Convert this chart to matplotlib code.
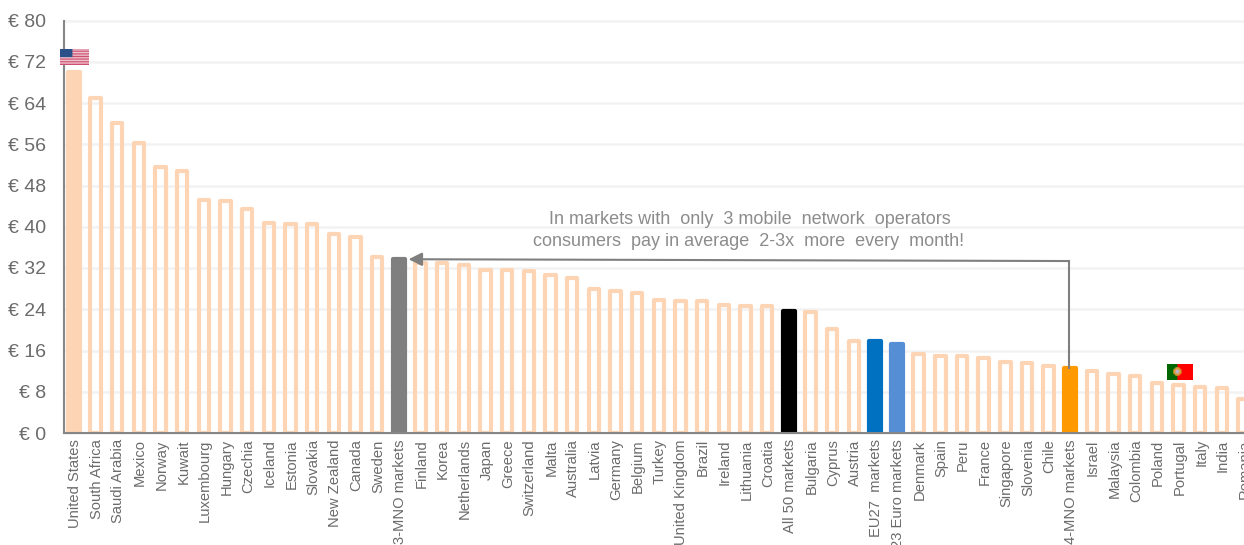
import numpy as np
import matplotlib
matplotlib.use('Agg')
import matplotlib.pyplot as plt
from matplotlib.transforms import ScaledTranslation

plt.rcParams['font.family'] = ['Liberation Sans', 'DejaVu Sans']

countries = ['United States', 'South Africa', 'Saudi Arabia', 'Mexico', 'Norway', 'Kuwait',
             'Luxembourg', 'Hungary', 'Czechia', 'Iceland', 'Estonia', 'Slovakia', 'New Zealand',
             'Canada', 'Sweden', '3-MNO markets', 'Finland', 'Korea', 'Netherlands', 'Japan',
             'Greece', 'Switzerland', 'Malta', 'Australia', 'Latvia', 'Germany', 'Belgium',
             'Turkey', 'United Kingdom', 'Brazil', 'Ireland', 'Lithuania', 'Croatia',
             'All 50 markets', 'Bulgaria', 'Cyprus', 'Austria', 'EU27  markets', '23 Euro markets',
             'Denmark', 'Spain', 'Peru', 'France', 'Singapore', 'Slovenia', 'Chile',
             '4-MNO markets', 'Israel', 'Malaysia', 'Colombia', 'Poland', 'Portugal', 'Italy',
             'India', 'Romania']
values = [70.1, 65.0, 60.1, 56.3, 51.6, 50.9, 45.1, 44.9, 43.4, 40.7, 40.5, 40.5, 38.5,
          38.0, 34.1, 33.8, 33.0, 33.0, 32.5, 31.7, 31.7, 31.5, 30.6, 30.1, 27.9, 27.5, 27.2,
          25.8, 25.6, 25.6, 24.9, 24.7, 24.6, 23.7, 23.5, 20.1, 17.8, 17.9, 17.2, 15.4, 14.9,
          14.9, 14.5, 13.8, 13.6, 12.9, 12.7, 12.0, 11.4, 11.1, 9.7, 9.3, 8.9, 8.7, 6.6]
highlight = {'United States': '#FDD5B5', '3-MNO markets': '#7F7F7F', 'All 50 markets': '#000000',
             'EU27  markets': '#0070C0', '23 Euro markets': '#558ED5', '4-MNO markets': '#FF9900'}
yticks = list(range(0, 81, 8))

W, H = 1244, 545
fig = plt.figure(figsize=(W / 100, H / 100), dpi=100)
ax = fig.add_axes([64 / W, 1 - 433 / H, 1 - 64 / W, (433 - 20.5) / H])

x = np.arange(len(countries))
for i, name in enumerate(countries):
    if name in highlight:
        ax.bar(i, values[i], width=0.55, facecolor=highlight[name], edgecolor=highlight[name],
               linewidth=3, joinstyle='round', zorder=3)
    else:
        ax.bar(i, values[i], width=0.48, facecolor='none', edgecolor='#FDD5B5',
               linewidth=3, joinstyle='round', zorder=3)

ax.set_xlim(-0.46, 54.02)
ax.set_ylim(0, 80)
ax.set_yticks(yticks)
ax.set_yticklabels([f'€ {v}' for v in yticks], fontsize=14, color='#6b6b6b')
ax.set_xticks(x)
ax.set_xticklabels(countries, rotation=90, fontsize=10.6, color='#6b6b6b')
ax.tick_params(length=0)
ax.tick_params(axis='x', pad=4.5)
ax.tick_params(axis='y', pad=13)
shift = ScaledTranslation(1 / 100, 0, fig.dpi_scale_trans)
for lab in ax.get_xticklabels():
    lab.set_transform(lab.get_transform() + shift)
ax.grid(axis='y', color='#F2F2F2', linewidth=1.8, zorder=0)
for g in ax.get_ygridlines():
    g.set_clip_on(False)
ax.set_axisbelow(True)
for s in ['top', 'right']:
    ax.spines[s].set_visible(False)
for s in ['left', 'bottom']:
    ax.spines[s].set_color('#868686')
    ax.spines[s].set_linewidth(1.5)
    ax.spines[s].set_zorder(4)

# arrow from the 4-MNO bar back to the 3-MNO bar
grey = '#7F7F7F'
ax.plot([45.95, 45.95], [12.7, 33.35], color=grey, lw=1.5, zorder=5)
ax.annotate('', xy=(15.45, 33.7), xytext=(45.95, 33.35),
            arrowprops=dict(arrowstyle='-|>,head_length=0.8,head_width=0.4', color=grey, lw=1.5,
                            shrinkA=0, shrinkB=0), zorder=5)
fig.text(749.5 / W, 1 - 219.5 / H, 'In markets with  only  3 mobile  network  operators', ha='center',
         va='center', fontsize=13, color='#8C8C8C')
fig.text(748.5 / W, 1 - 241.5 / H, 'consumers  pay in average  2-3x  more  every  month!', ha='center',
         va='center', fontsize=13, color='#8C8C8C')

# flags
us = np.ones((13, 28, 3))
us[::2] = [0.80, 0.32, 0.44]
us[1::2] = [0.95, 0.80, 0.84]
us[:7, :12] = [0.17, 0.31, 0.53]
ax_us = fig.add_axes([60 / W, 1 - 65.5 / H, 28 / W, 16.5 / H], zorder=6)
ax_us.imshow(us, aspect='auto', interpolation='bilinear')
ax_us.axis('off')

pt = np.zeros((16, 25, 3))
pt[:, :10] = [0.0, 0.4, 0.0]
pt[:, 10:] = [1.0, 0.0, 0.0]
rows, cols = np.ogrid[:16, :25]
dist = np.hypot(rows - 7.5, cols - 9.5)
pt[dist < 4.2] = [0.85, 0.6, 0.2]
pt[dist < 2.0] = [0.75, 0.7, 0.8]
ax_pt = fig.add_axes([1167 / W, 1 - 380.5 / H, 25.5 / W, 16.5 / H], zorder=6)
ax_pt.imshow(pt, aspect='auto', interpolation='bilinear')
ax_pt.axis('off')

fig.savefig('out.png', dpi=100)
